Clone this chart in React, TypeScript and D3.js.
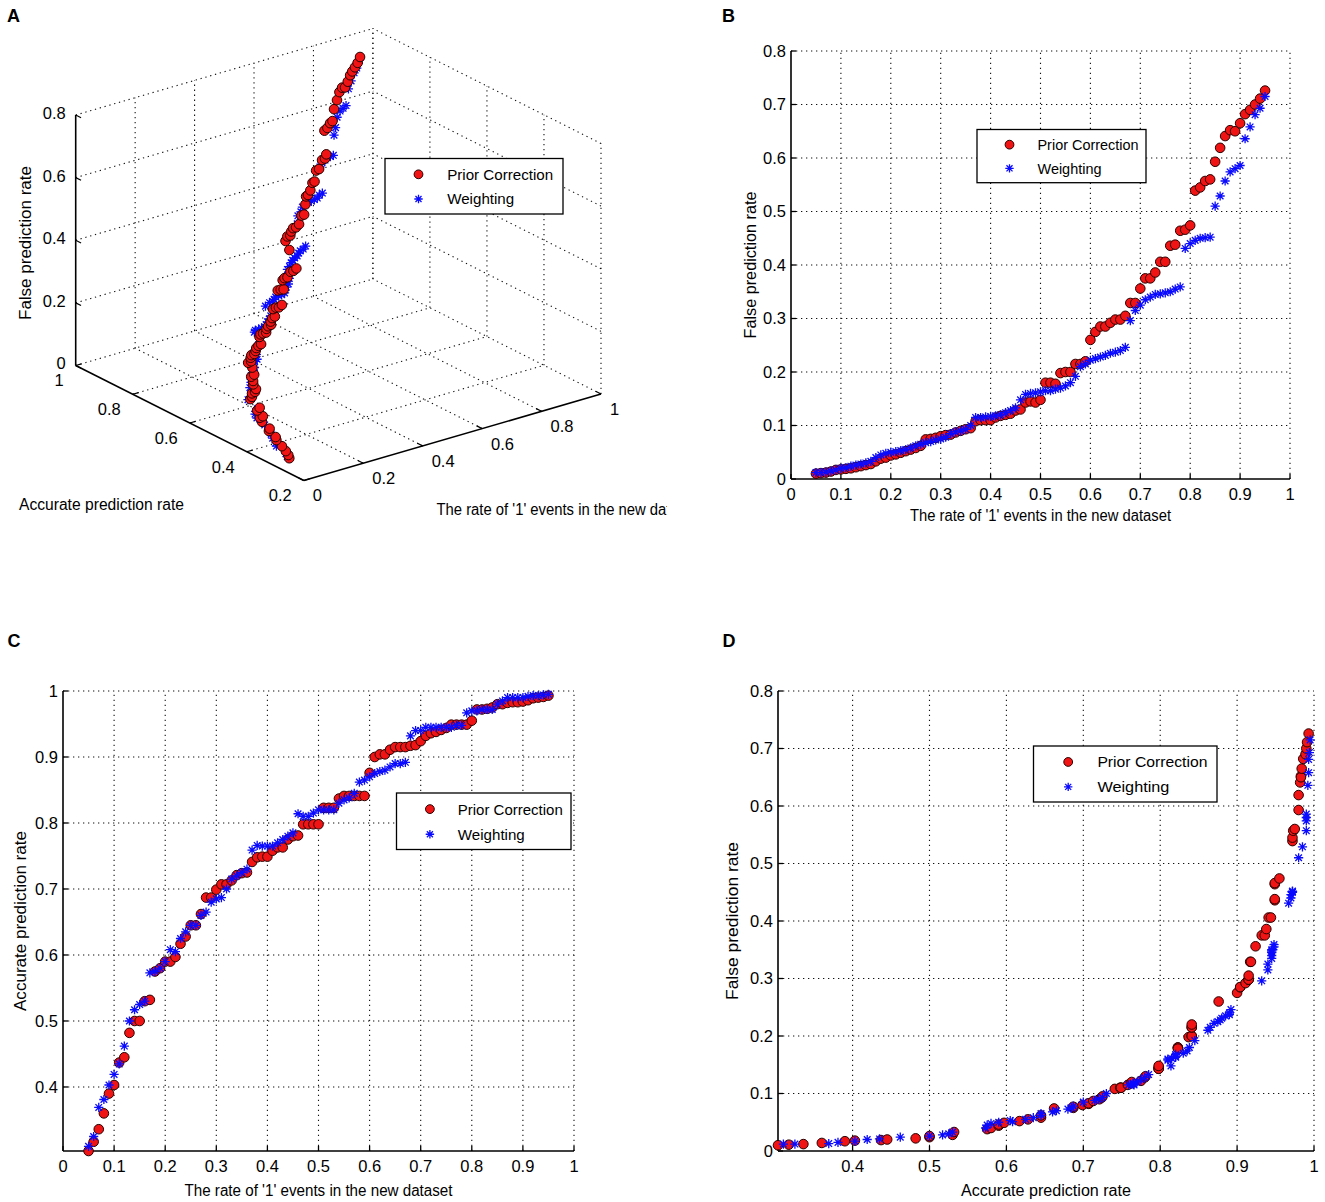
import React from 'react';
import * as d3 from 'd3';

// ---------------- DATA ----------------
const RATE = [
  0.05, 0.06, 0.07, 0.08, 0.09, 0.10, 0.11, 0.12, 0.13, 0.14,
  0.15, 0.16, 0.17, 0.18, 0.19, 0.20, 0.21, 0.22, 0.23, 0.24,
  0.25, 0.26, 0.27, 0.28, 0.29, 0.30, 0.31, 0.32, 0.33, 0.34,
  0.35, 0.36, 0.37, 0.38, 0.39, 0.40, 0.41, 0.42, 0.43, 0.44,
  0.45, 0.46, 0.47, 0.48, 0.49, 0.50, 0.51, 0.52, 0.53, 0.54,
  0.55, 0.56, 0.57, 0.58, 0.59, 0.60, 0.61, 0.62, 0.63, 0.64,
  0.65, 0.66, 0.67, 0.68, 0.69, 0.70, 0.71, 0.72, 0.73, 0.74,
  0.75, 0.76, 0.77, 0.78, 0.79, 0.80, 0.81, 0.82, 0.83, 0.84,
  0.85, 0.86, 0.87, 0.88, 0.89, 0.90, 0.91, 0.92, 0.93, 0.94, 0.95,
];

// Prior Correction: false prediction rate
const PC_FPR = [
  0.010, 0.011, 0.012, 0.014, 0.017, 0.018, 0.019, 0.020, 0.022, 0.024,
  0.026, 0.028, 0.033, 0.038, 0.040, 0.044, 0.046, 0.049, 0.052, 0.055,
  0.058, 0.062, 0.074, 0.075, 0.077, 0.080, 0.082, 0.083, 0.087, 0.090,
  0.093, 0.095, 0.108, 0.110, 0.110, 0.110, 0.115, 0.118, 0.120, 0.122,
  0.128, 0.130, 0.143, 0.145, 0.143, 0.148, 0.180, 0.180, 0.178, 0.198,
  0.200, 0.200, 0.215, 0.215, 0.220, 0.260, 0.275, 0.285, 0.285, 0.292,
  0.298, 0.298, 0.305, 0.329, 0.329, 0.356, 0.375, 0.375, 0.386, 0.406,
  0.406, 0.436, 0.438, 0.464, 0.466, 0.474, 0.539, 0.545, 0.557, 0.560,
  0.593, 0.619, 0.641, 0.652, 0.650, 0.665, 0.682, 0.690, 0.700, 0.711, 0.726,
];

// Prior Correction: accurate prediction rate
const PC_APR = [
  0.303, 0.317, 0.336, 0.360, 0.390, 0.403, 0.437, 0.445, 0.482, 0.500,
  0.500, 0.530, 0.532, 0.575, 0.580, 0.590, 0.590, 0.597, 0.617, 0.628,
  0.645, 0.645, 0.662, 0.687, 0.687, 0.699, 0.707, 0.707, 0.713, 0.721,
  0.724, 0.725, 0.741, 0.748, 0.749, 0.749, 0.758, 0.763, 0.763, 0.775,
  0.780, 0.781, 0.798, 0.798, 0.798, 0.798, 0.823, 0.823, 0.823, 0.837,
  0.841, 0.841, 0.841, 0.841, 0.841, 0.876, 0.900, 0.904, 0.904, 0.911,
  0.915, 0.915, 0.915, 0.917, 0.918, 0.924, 0.932, 0.936, 0.938, 0.941,
  0.944, 0.949, 0.949, 0.949, 0.949, 0.955, 0.972, 0.972, 0.973, 0.975,
  0.980, 0.980, 0.982, 0.983, 0.983, 0.984, 0.986, 0.989, 0.990, 0.991, 0.993,
];

// Weighting: false prediction rate
const W_FPR = [
  0.012, 0.012, 0.013, 0.015, 0.017, 0.020, 0.021, 0.024, 0.026, 0.028,
  0.030, 0.033, 0.040, 0.045, 0.048, 0.050, 0.051, 0.053, 0.055, 0.058,
  0.062, 0.065, 0.068, 0.070, 0.073, 0.075, 0.078, 0.085, 0.088, 0.090,
  0.093, 0.100, 0.115, 0.115, 0.116, 0.117, 0.118, 0.120, 0.124, 0.128,
  0.133, 0.148, 0.158, 0.160, 0.161, 0.163, 0.165, 0.165, 0.168, 0.170,
  0.174, 0.180, 0.192, 0.210, 0.215, 0.222, 0.225, 0.228, 0.231, 0.235,
  0.237, 0.240, 0.246, 0.296, 0.315, 0.325, 0.335, 0.340, 0.345, 0.346,
  0.348, 0.350, 0.355, 0.359, 0.431, 0.440, 0.446, 0.450, 0.451, 0.452,
  0.510, 0.529, 0.557, 0.574, 0.580, 0.586, 0.636, 0.658, 0.681, 0.693, 0.715,
];

// Weighting: accurate prediction rate
const W_APR = [
  0.310, 0.325, 0.369, 0.381, 0.403, 0.419, 0.435, 0.462, 0.500, 0.517,
  0.525, 0.530, 0.573, 0.575, 0.580, 0.590, 0.608, 0.605, 0.625, 0.635,
  0.645, 0.645, 0.660, 0.665, 0.680, 0.685, 0.687, 0.700, 0.715, 0.720,
  0.725, 0.730, 0.759, 0.766, 0.765, 0.765, 0.765, 0.770, 0.775, 0.780,
  0.785, 0.814, 0.810, 0.810, 0.815, 0.820, 0.820, 0.820, 0.820, 0.830,
  0.835, 0.838, 0.845, 0.862, 0.865, 0.870, 0.875, 0.878, 0.880, 0.885,
  0.890, 0.890, 0.892, 0.932, 0.940, 0.940, 0.945, 0.945, 0.945, 0.945,
  0.945, 0.945, 0.948, 0.948, 0.967, 0.970, 0.970, 0.972, 0.972, 0.972,
  0.980, 0.985, 0.990, 0.990, 0.990, 0.990, 0.992, 0.993, 0.993, 0.994, 0.995,
];

const SERIES_NAMES = ['Prior Correction', 'Weighting'];

const TICKS_RATE = [0, 0.1, 0.2, 0.3, 0.4, 0.5, 0.6, 0.7, 0.8, 0.9, 1];
const TICKS_FPR = [0, 0.1, 0.2, 0.3, 0.4, 0.5, 0.6, 0.7, 0.8];
const TICKS_APR = [0.4, 0.5, 0.6, 0.7, 0.8, 0.9, 1];
const TICKS3_RATE = [0, 0.2, 0.4, 0.6, 0.8, 1];
const TICKS3_APR = [0.2, 0.4, 0.6, 0.8, 1];
const TICKS3_FPR = [0, 0.2, 0.4, 0.6, 0.8];

const TITLE_RATE = "The rate of '1' events in the new dataset";
const TITLE_FPR = 'False prediction rate';
const TITLE_APR = 'Accurate prediction rate';

// ---------------- STYLE ----------------
const FONT = '"Liberation Sans", Arial, Helvetica, sans-serif';
const RED = '#f01414';
const RED_EDGE = '#2a0000';
const BLUE = '#0a0aff';
const GRID = { stroke: '#111', strokeWidth: 1.1, strokeDasharray: '1.3,3.7' };

const fmt = (v: number) => String(+v.toFixed(1));

function Dot({ x, y, r = 4.8 }: { x: number; y: number; r?: number }) {
  return <circle cx={x} cy={y} r={r} fill={RED} stroke={RED_EDGE} strokeWidth={1} />;
}

function Star({ x, y, s = 4.6 }: { x: number; y: number; s?: number }) {
  const d = s * 0.72;
  return (
    <path
      transform={`translate(${x},${y})`}
      d={`M${-s},0L${s},0M0,${-s}L0,${s}M${-d},${-d}L${d},${d}M${-d},${d}L${d},${-d}`}
      stroke={BLUE}
      strokeWidth={1.3}
      fill="none"
    />
  );
}

type Box = { l: number; r: number; t: number; b: number };
type LegendBox = { x: number; y: number; w: number; h: number; mx: number; tx: number; w1: number; w2: number };

function Legend({ lb }: { lb: LegendBox }) {
  const r1 = lb.y + lb.h * 0.285;
  const r2 = lb.y + lb.h * 0.73;
  return (
    <g>
      <rect x={lb.x} y={lb.y} width={lb.w} height={lb.h} fill="#fff" stroke="#000" strokeWidth={1.3} />
      <Dot x={lb.x + lb.mx} y={r1} r={4.4} />
      <Star x={lb.x + lb.mx} y={r2} s={4.2} />
      <text x={lb.x + lb.tx} y={r1} dy="0.35em" fontSize={15.5} fontFamily={FONT}
        textLength={lb.w1} lengthAdjust="spacingAndGlyphs">{SERIES_NAMES[0]}</text>
      <text x={lb.x + lb.tx} y={r2} dy="0.35em" fontSize={15.5} fontFamily={FONT}
        textLength={lb.w2} lengthAdjust="spacingAndGlyphs">{SERIES_NAMES[1]}</text>
    </g>
  );
}

type Panel2DProps = {
  box: Box;
  xDomain: [number, number];
  yDomain: [number, number];
  xTicks: number[];
  yTicks: number[];
  pcX: number[]; pcY: number[];
  wX: number[]; wY: number[];
  legend: LegendBox;
  xTitle: string; xTitleLen: number; xTitleY: number;
  yTitle: string; yTitleLen: number; yTitleX: number;
};

function Panel2D(p: Panel2DProps) {
  const { box } = p;
  const x = d3.scaleLinear().domain(p.xDomain).range([box.l, box.r]);
  const y = d3.scaleLinear().domain(p.yDomain).range([box.b, box.t]);
  const xt = p.xTicks.filter((v) => v >= p.xDomain[0] - 1e-9);
  const yt = p.yTicks.filter((v) => v >= p.yDomain[0] - 1e-9);
  return (
    <g>
      {xt.filter((v) => Math.abs(x(v) - box.l) > 1).map((v) => (
        <line key={'gx' + v} x1={x(v)} x2={x(v)} y1={box.b} y2={box.t} {...GRID} />
      ))}
      {yt.filter((v) => Math.abs(y(v) - box.b) > 1).map((v) => (
        <line key={'gy' + v} x1={box.l} x2={box.r} y1={y(v)} y2={y(v)} {...GRID} />
      ))}
      <line x1={box.l} x2={box.r} y1={box.b} y2={box.b} stroke="#000" strokeWidth={1.6} />
      <line x1={box.l} x2={box.l} y1={box.b} y2={box.t} stroke="#000" strokeWidth={1.6} />
      {xt.map((v) => (
        <g key={'tx' + v}>
          <line x1={x(v)} x2={x(v)} y1={box.b} y2={box.b - 5} stroke="#000" strokeWidth={1.3} />
          <text x={x(v)} y={box.b + 21} textAnchor="middle" fontSize={16.5} fontFamily={FONT}>{fmt(v)}</text>
        </g>
      ))}
      {yt.map((v) => (
        <g key={'ty' + v}>
          <line x1={box.l} x2={box.l + 5} y1={y(v)} y2={y(v)} stroke="#000" strokeWidth={1.3} />
          <text x={box.l - 5} y={y(v)} dy="0.36em" textAnchor="end" fontSize={16.5} fontFamily={FONT}>{fmt(v)}</text>
        </g>
      ))}
      {p.pcX.map((v, i) => <Dot key={'pc' + i} x={x(v)} y={y(p.pcY[i])} />)}
      {p.wX.map((v, i) => <Star key={'w' + i} x={x(v)} y={y(p.wY[i])} />)}
      <Legend lb={p.legend} />
      <text
        x={(box.l + box.r) / 2}
        y={p.xTitleY}
        textAnchor="middle"
        fontSize={16}
        fontFamily={FONT}
        textLength={p.xTitleLen}
        lengthAdjust="spacingAndGlyphs"
      >{p.xTitle}</text>
      <text
        transform={`translate(${p.yTitleX},${(box.t + box.b) / 2}) rotate(-90)`}
        textAnchor="middle"
        dy="0.35em"
        fontSize={16}
        fontFamily={FONT}
        textLength={p.yTitleLen}
        lengthAdjust="spacingAndGlyphs"
      >{p.yTitle}</text>
    </g>
  );
}

// ---------------- 3D PANEL ----------------
function Panel3D() {
  const rS = d3.scaleLinear().domain([0, 1]).range([0, 1]);
  const aS = d3.scaleLinear().domain([0.2, 1]).range([0, 1]);
  const fS = d3.scaleLinear().domain([0, 0.8]).range([0, 1]);
  const O = [303.8, 480.5];
  const ER = [297.2, -86.5];
  const EA = [-228.1, -115];
  const EF = [0, -250.5];
  const P = (r: number, a: number, f: number): [number, number] => [
    O[0] + rS(r) * ER[0] + aS(a) * EA[0] + fS(f) * EF[0],
    O[1] + rS(r) * ER[1] + aS(a) * EA[1] + fS(f) * EF[1],
  ];
  const seg = (p: [number, number], q: [number, number], key: string, solid = false) => (
    <line key={key} x1={p[0]} y1={p[1]} x2={q[0]} y2={q[1]}
      {...(solid ? { stroke: '#000', strokeWidth: 1.6 } : GRID)} />
  );
  const grid: React.ReactNode[] = [];
  TICKS3_RATE.forEach((r) => { if (r > 0) grid.push(seg(P(r, 0.2, 0), P(r, 1, 0), 'fr' + r)); });
  TICKS3_APR.forEach((a) => { if (a > 0.2) grid.push(seg(P(0, a, 0), P(1, a, 0), 'fa' + a)); });
  TICKS3_RATE.forEach((r) => { if (r > 0) grid.push(seg(P(r, 1, 0), P(r, 1, 0.8), 'wr' + r)); });
  TICKS3_FPR.forEach((f) => { if (f > 0) grid.push(seg(P(0, 1, f), P(1, 1, f), 'wf' + f)); });
  TICKS3_APR.forEach((a) => grid.push(seg(P(1, a, 0), P(1, a, 0.8), 'sa' + a)));
  TICKS3_FPR.forEach((f) => { if (f > 0) grid.push(seg(P(1, 0.2, f), P(1, 1, f), 'sf' + f)); });

  const tickLen = 6;
  const unit = (v: number[]) => { const n = Math.hypot(v[0], v[1]); return [v[0] / n, v[1] / n]; };
  const uR = unit(ER);
  const uA = unit(EA);
  const uAneg = [-uA[0], -uA[1]];

  return (
    <g>
      {grid}
      {seg(P(0, 1, 0), P(0, 1, 0.8), 'axz', true)}
      {seg(P(0, 0.2, 0), P(0, 1, 0), 'axa', true)}
      {seg(P(0, 0.2, 0), P(1, 0.2, 0), 'axr', true)}
      {TICKS3_FPR.map((f) => {
        const p = P(0, 1, f);
        return (
          <g key={'tz' + f}>
            <line x1={p[0]} y1={p[1]} x2={p[0] + uAneg[0] * tickLen} y2={p[1] + uAneg[1] * tickLen} stroke="#000" strokeWidth={1.2} />
            <text x={p[0] - 10} y={p[1] - 2} dy="0.36em" textAnchor="end" fontSize={16.5} fontFamily={FONT}>{fmt(f)}</text>
          </g>
        );
      })}
      {TICKS3_APR.map((a) => {
        const p = P(0, a, 0);
        return (
          <g key={'ta' + a}>
            <line x1={p[0]} y1={p[1]} x2={p[0] + uR[0] * tickLen} y2={p[1] + uR[1] * tickLen} stroke="#000" strokeWidth={1.2} />
            <text x={p[0] - 12} y={p[1] + 15} dy="0.36em" textAnchor="end" fontSize={16.5} fontFamily={FONT}>{fmt(a)}</text>
          </g>
        );
      })}
      {TICKS3_RATE.map((r) => {
        const p = P(r, 0.2, 0);
        return (
          <g key={'tr' + r}>
            <line x1={p[0]} y1={p[1]} x2={p[0] + uA[0] * tickLen} y2={p[1] + uA[1] * tickLen} stroke="#000" strokeWidth={1.2} />
            <text x={p[0] + 9} y={p[1] + 15} dy="0.36em" textAnchor="start" fontSize={16.5} fontFamily={FONT}>{fmt(r)}</text>
          </g>
        );
      })}
      {RATE.map((r, i) => { const p = P(r, W_APR[i], W_FPR[i]); return <Star key={'w3' + i} x={p[0]} y={p[1]} />; })}
      {RATE.map((r, i) => { const p = P(r, PC_APR[i], PC_FPR[i]); return <Dot key={'p3' + i} x={p[0]} y={p[1]} />; })}
      <Legend lb={{ x: 385, y: 158.5, w: 178, h: 55.5, mx: 33.5, tx: 62.2, w1: 106, w2: 67 }} />
      <text transform="translate(25.7,243) rotate(-90)" textAnchor="middle" dy="0.35em" fontSize={16}
        fontFamily={FONT} textLength={154} lengthAdjust="spacingAndGlyphs">{TITLE_FPR}</text>
      <text x={19} y={509.5} fontSize={16} fontFamily={FONT} textLength={165} lengthAdjust="spacingAndGlyphs">{TITLE_APR}</text>
      <g clipPath="url(#clipA)">
        <text x={436.5} y={514.5} fontSize={16} fontFamily={FONT} textLength={262} lengthAdjust="spacingAndGlyphs">{TITLE_RATE}</text>
      </g>
    </g>
  );
}

export default function App() {
  const aprMin = d3.min(PC_APR.concat(W_APR)) as number;
  return (
    <svg width={1325} height={1202} viewBox="0 0 1325 1202"
      style={{ position: 'absolute', left: 0, top: 0, background: '#fff' }}>
      <defs>
        <clipPath id="clipA"><rect x={0} y={0} width={667} height={540} /></clipPath>
      </defs>
      <rect x={0} y={0} width={1325} height={1202} fill="#fff" />
      <g fontFamily={FONT} fontWeight="bold" fontSize={18}>
        <text x={7} y={22}>A</text>
        <text x={722} y={22}>B</text>
        <text x={7.5} y={647}>C</text>
        <text x={722.5} y={647}>D</text>
      </g>
      <Panel3D />
      <Panel2D
        box={{ l: 791, r: 1290, t: 51, b: 479 }}
        xDomain={[0, 1]} yDomain={[0, 0.8]}
        xTicks={TICKS_RATE} yTicks={TICKS_FPR}
        pcX={RATE} pcY={PC_FPR} wX={RATE} wY={W_FPR}
        legend={{ x: 977, y: 129.5, w: 169, h: 53.2, mx: 32.5, tx: 60.5, w1: 101, w2: 64 }}
        xTitle={TITLE_RATE} xTitleLen={261} xTitleY={521}
        yTitle={TITLE_FPR} yTitleLen={147} yTitleX={750}
      />
      <Panel2D
        box={{ l: 63, r: 574, t: 691, b: 1151 }}
        xDomain={[0, 1]} yDomain={[aprMin, 1]}
        xTicks={TICKS_RATE} yTicks={TICKS_APR}
        pcX={RATE} pcY={PC_APR} wX={RATE} wY={W_APR}
        legend={{ x: 396.5, y: 793, w: 174.5, h: 56.5, mx: 33.4, tx: 61.3, w1: 105, w2: 67 }}
        xTitle={TITLE_RATE} xTitleLen={268} xTitleY={1196}
        yTitle={TITLE_APR} yTitleLen={180} yTitleX={20}
      />
      <Panel2D
        box={{ l: 778, r: 1314, t: 691, b: 1151 }}
        xDomain={[aprMin, 1]} yDomain={[0, 0.8]}
        xTicks={TICKS_APR} yTicks={TICKS_FPR}
        pcX={PC_APR} pcY={PC_FPR} wX={W_APR} wY={W_FPR}
        legend={{ x: 1033.5, y: 746, w: 183.5, h: 56, mx: 34.7, tx: 63.9, w1: 110, w2: 72 }}
        xTitle={TITLE_APR} xTitleLen={170} xTitleY={1196}
        yTitle={TITLE_FPR} yTitleLen={158} yTitleX={732}
      />
    </svg>
  );
}
